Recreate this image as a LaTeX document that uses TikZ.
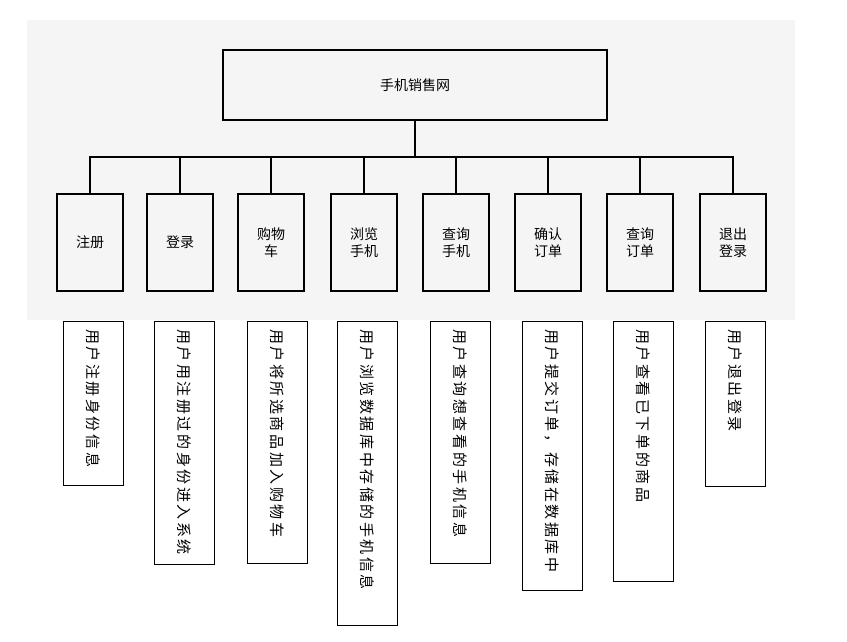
\documentclass[tikz,border=0pt]{standalone}
\usepackage{fontspec}
\newfontfamily\cjk{Noto Sans CJK SC}
\newfontfamily\cjksp[LetterSpace=17]{Noto Sans CJK SC}
\begin{document}
\begin{tikzpicture}[x=1pt,y=-1pt,
  bx/.style={draw,line width=1.6pt},
  ln/.style={line width=1.6pt},
  vt/.style={rotate=-90,anchor=west,inner sep=0pt,font=\cjksp\fontsize{15}{15}\selectfont}]
\useasboundingbox (0,0) rectangle (847,642);
\fill[gray!8] (27,20) rectangle (795,320);
\node[bx,minimum width=384pt,minimum height=70pt,font=\cjk\fontsize{14}{15}\selectfont] (top) at (415,85) {手机销售网};
\coordinate (bus) at (415,157);
\foreach \i/\x/\t in {1/90/注册,2/180/登录,3/271/{购物\\车},4/364/{浏览\\手机},5/456/{查询\\手机},6/548/{确认\\订单},7/640/{查询\\订单},8/733/{退出\\登录}}{
  \node[bx,minimum width=66pt,minimum height=97pt,align=center,font=\cjk\fontsize{14}{17}\selectfont] (b\i) at (\x,242.5) {\t};
  \draw[ln] (b\i.north) |- (bus);
}
\draw[ln] (top.south) -- (bus);
\foreach \i/\x/\b/\t in {1/93.5/485/用户注册身份信息,2/184/564/用户用注册过的身份进入系统,3/277/563/用户将所选商品加入购物车,4/367.5/625/用户浏览数据库中存储的手机信息,5/460/563/用户查询想查看的手机信息,6/552/590/用户提交订单，存储在数据库中,7/643.5/581/用户查看已下单的商品,8/735.5/486/用户退出登录}{
  \draw[thin] (\x-30,321) rectangle (\x+30,\b);
  \node[vt] (d\i) at (\x,329) {\t};
}
\end{tikzpicture}
\end{document}
